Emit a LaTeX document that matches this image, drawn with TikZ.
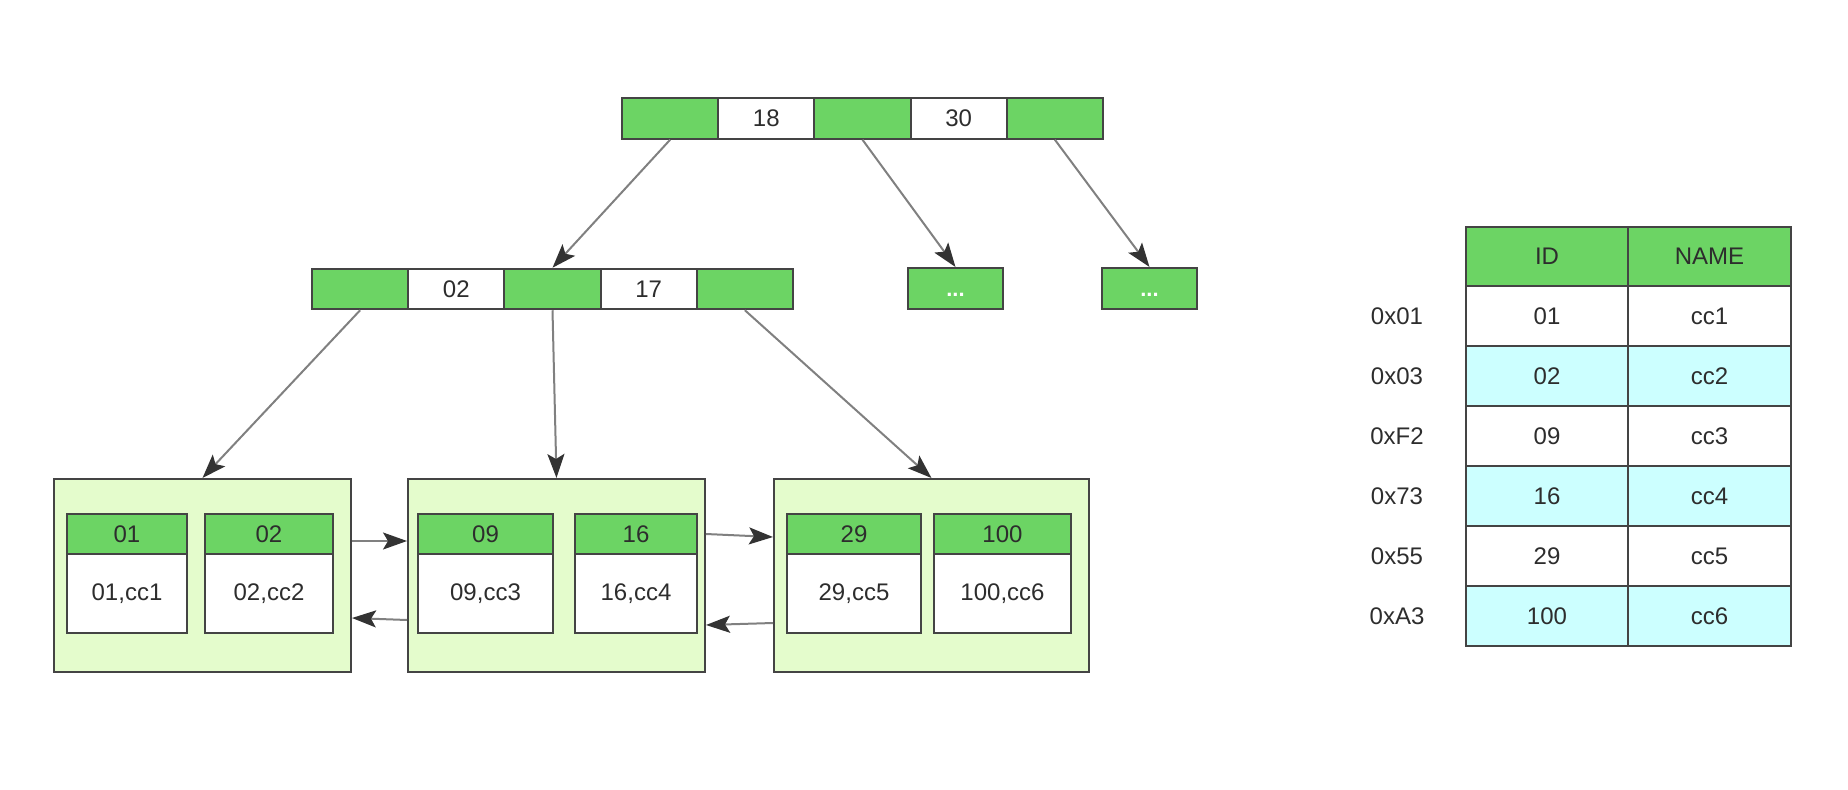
\documentclass[tikz,border=0pt]{standalone}
\usepackage{fontspec}
\setmainfont{Liberation Sans}
\usetikzlibrary{arrows.meta}
\definecolor{grn}{RGB}{108,212,100}
\definecolor{lgrn}{RGB}{228,252,204}
\definecolor{cyn}{RGB}{204,255,255}
\definecolor{bord}{RGB}{68,68,68}
\definecolor{txt}{RGB}{45,45,45}
\definecolor{lin}{RGB}{128,128,128}
\definecolor{headc}{RGB}{51,51,51}
\tikzset{
  base/.style={rectangle, draw=bord, line width=2pt, inner sep=0pt, text=txt, font=\fontsize{24}{28}\selectfont},
  keycell/.style={base, minimum width=96.2pt, minimum height=40.5pt},
  gcell/.style={keycell, fill=grn},
  wcell/.style={keycell, fill=white},
  dotbox/.style={base, fill=grn, minimum width=95pt, minimum height=41pt, text=white, font=\fontsize{22}{26}\selectfont\bfseries},
  leafbox/.style={base, fill=lgrn, minimum height=193pt},
  lhead/.style={base, fill=grn, minimum height=40pt},
  lbody/.style={base, fill=white, minimum height=79pt},
  thead/.style={base, fill=grn, minimum height=59pt},
  trow/.style={base, minimum height=60pt},
  addr/.style={text=txt, font=\fontsize{24}{28}\selectfont, inner sep=0pt},
  edge/.style={draw=lin, line width=2pt, -{Stealth[length=24pt,width=17pt,inset=5pt,color=headc]}},
}
\begin{document}
\begin{tikzpicture}[x=1pt,y=-1pt]
\useasboundingbox (0,0) rectangle (1848,790);
% top row
\node[gcell] (t1) at (670.1,118.5) {};
\node[wcell] (t2) at (766.3,118.5) {18};
\node[gcell] (t3) at (862.5,118.5) {};
\node[wcell] (t4) at (958.7,118.5) {30};
\node[gcell] (t5) at (1054.9,118.5) {};
% second row
\node[gcell] (m1) at (360.1,289) {};
\node[wcell] (m2) at (456.3,289) {02};
\node[gcell] (m3) at (552.5,289) {};
\node[wcell] (m4) at (648.7,289) {17};
\node[gcell] (m5) at (744.9,289) {};
\node[dotbox] (d1) at (955.5,288.5) {\vphantom{0}...};
\node[dotbox] (d2) at (1149.5,288.5) {\vphantom{0}...};
% leaves
\node[leafbox, minimum width=297pt] (L1) at (202.5,575.5) {};
\node[leafbox, minimum width=297pt] (L2) at (556.5,575.5) {};
\node[leafbox, minimum width=315pt] (L3) at (931.5,575.5) {};
\node[lhead, minimum width=120pt] (h1) at (127,534) {01};
\node[lbody, minimum width=120pt] (b1) at (127,593.5) {01,cc1};
\node[lhead, minimum width=128pt] (h2) at (269,534) {02};
\node[lbody, minimum width=128pt] (b2) at (269,593.5) {02,cc2};
\node[lhead, minimum width=135pt] (h3) at (485.5,534) {09};
\node[lbody, minimum width=135pt] (b3) at (485.5,593.5) {09,cc3};
\node[lhead, minimum width=122pt] (h4) at (636,534) {16};
\node[lbody, minimum width=122pt] (b4) at (636,593.5) {16,cc4};
\node[lhead, minimum width=134pt] (h5) at (854,534) {29};
\node[lbody, minimum width=134pt] (b5) at (854,593.5) {29,cc5};
\node[lhead, minimum width=137pt] (h6) at (1002.5,534) {100};
\node[lbody, minimum width=137pt] (b6) at (1002.5,593.5) {100,cc6};
% edges
\draw[edge] (t1.south) -- (m3.north);
\draw[edge] (t3.south) -- (d1.north);
\draw[edge] (t5.south) -- (d2.north);
\draw[edge] (m1.south) -- (L1.north);
\draw[edge] (m3.south) -- (L2.north);
\draw[edge] (m5.south) -- (L3.north);
\draw[edge] ([yshift=34.5pt]L1.east) -- ([yshift=34.5pt]L2.west);
\draw[edge] ([yshift=-44.5pt]L2.west) -- ([yshift=-42.5pt]L1.east);
\draw[edge] ([yshift=41.5pt]L2.east) -- ([yshift=38.5pt]L3.west);
\draw[edge] ([yshift=-47.5pt]L3.west) -- ([yshift=-49.5pt]L2.east);
% table
\node[thead, minimum width=162pt] (th1) at (1547,256.5) {ID};
\node[thead, minimum width=163pt] (th2) at (1709.5,256.5) {NAME};
\node[trow, fill=white, minimum width=162pt] (r1a) at (1547,316) {01};
\node[trow, fill=white, minimum width=163pt] (r1b) at (1709.5,316) {cc1};
\node[trow, fill=cyn, minimum width=162pt] (r2a) at (1547,376) {02};
\node[trow, fill=cyn, minimum width=163pt] (r2b) at (1709.5,376) {cc2};
\node[trow, fill=white, minimum width=162pt] (r3a) at (1547,436) {09};
\node[trow, fill=white, minimum width=163pt] (r3b) at (1709.5,436) {cc3};
\node[trow, fill=cyn, minimum width=162pt] (r4a) at (1547,496) {16};
\node[trow, fill=cyn, minimum width=163pt] (r4b) at (1709.5,496) {cc4};
\node[trow, fill=white, minimum width=162pt] (r5a) at (1547,556) {29};
\node[trow, fill=white, minimum width=163pt] (r5b) at (1709.5,556) {cc5};
\node[trow, fill=cyn, minimum width=162pt] (r6a) at (1547,616) {100};
\node[trow, fill=cyn, minimum width=163pt] (r6b) at (1709.5,616) {cc6};
\node[addr] (a1) at (1397,316) {0x01};
\node[addr] (a2) at (1397,376) {0x03};
\node[addr] (a3) at (1397,436) {0xF2};
\node[addr] (a4) at (1397,496) {0x73};
\node[addr] (a5) at (1397,556) {0x55};
\node[addr] (a6) at (1397,616) {0xA3};
\end{tikzpicture}
\end{document}
